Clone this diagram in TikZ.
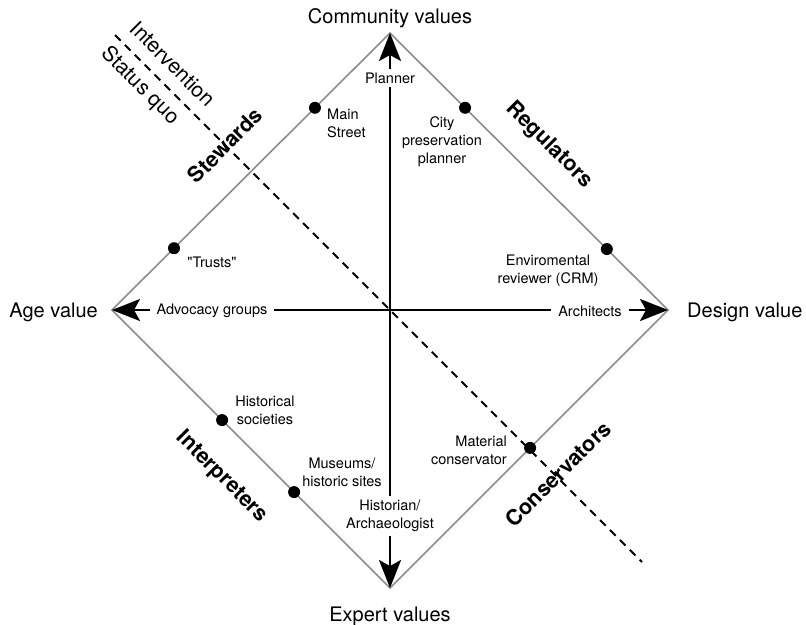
\documentclass[tikz,border=0pt]{standalone}
\usepackage{fontspec}
\setmainfont{TeX Gyre Heros}
\newfontfamily\plainq{TeX Gyre Heros}
\usetikzlibrary{arrows.meta,calc}
\definecolor{edgegray}{RGB}{140,140,140}
\begin{document}
\begin{tikzpicture}[x=1pt,y=-1pt,
  edge/.style={draw=edgegray, line width=1.6pt},
  axis/.style={line width=2.5pt, arrows={Stealth[length=28pt,width=22pt,inset=6pt]-Stealth[length=28pt,width=22pt,inset=6pt]}},
  border/.style={line width=2pt, dash pattern=on 8pt off 6pt},
  small/.style={font=\fontsize{14.5}{18}\selectfont, inner sep=1pt},
  big/.style={font=\fontsize{20}{24}\selectfont, inner sep=0pt},
  diag/.style={font=\fontsize{21}{24}\selectfont, inner sep=0pt},
  role/.style={font=\fontsize{21.5}{24}\selectfont\bfseries, inner sep=0pt},
  gap/.style={small, fill=white, inner xsep=7pt, inner ysep=4pt},
  dot/.style={circle, fill=black, inner sep=0pt, minimum size=12pt}]
\useasboundingbox (0,0) rectangle (806,624);
% diamond vertices
\coordinate (T) at (390,33);
\coordinate (R) at (668,310);
\coordinate (B) at (390,588);
\coordinate (L) at (112,310);
\draw[edge] (T) -- (R) -- (B) -- (L) -- cycle;
% dashed divider
\coordinate (d1) at (115,35);
\coordinate (d2) at (642,562);
\draw[border] (d1) -- (d2);
\node[diag, rotate=-45] (interv) at (173,64) {Intervention};
\node[diag, rotate=-45] (squo) at (140,86) {Status quo};
% axes
\draw[axis] (B) -- (T);
\draw[axis] (L) -- (R);
\node[gap] (planner) at (390,78) {Planner};
\node[gap, align=center] (histor) at (390,516) {Historian/\\Archaeologist};
\node[gap] (advoc) at (212,311) {Advocacy groups};
\node[gap] (archi) at (590,311) {Architects};
% corner labels
\node[big, anchor=base] (comm) at (390,23) {Community values};
\node[big, anchor=base] (expert) at (390,621) {Expert values};
\node[big, anchor=base east] (age) at (98,317) {Age value};
\node[big, anchor=base west] (design) at (687,317) {Design value};
% roles
\node[role, rotate=45] (stew) at (225,145) {Stewards};
\node[role, rotate=-45] (regu) at (549,145) {Regulators};
\node[role, rotate=-45] (interp) at (222,477) {Interpreters};
\node[role, rotate=45] (cons) at (558,474) {Conservators};
% dots
\node[dot] (pMain) at ($(T)!0.27!(L)$) {};
\node[dot] (pCity) at ($(T)!0.27!(R)$) {};
\node[dot] (pTrust) at ($(T)!0.777!(L)$) {};
\node[dot] (pEnv) at ($(T)!0.78!(R)$) {};
\node[dot] (pHist) at ($(L)!0.396!(B)$) {};
\node[dot] (pMus) at ($(L)!0.655!(B)$) {};
\node[dot] (pMat) at ($(B)!0.504!(R)$) {};
% dot labels
\node[small, anchor=west, align=left] (lMain) at (326,123) {Main\\Street};
\node[small, align=center] (lCity) at (442,142) {City\\preservation\\planner};
\node[small] (lTrust) at (212,262) {\plainq "Trusts"};
\node[small, align=center] (lEnv) at (548,271) {Enviromental\\reviewer (CRM)};
\node[small, align=center] (lHist) at (265,410) {Historical\\societies};
\node[small, align=center] (lMus) at (342,472) {Museums/\\historic sites};
\node[small, anchor=east, align=right] (lMat) at (508,450) {Material\\conservator};
\end{tikzpicture}
\end{document}
